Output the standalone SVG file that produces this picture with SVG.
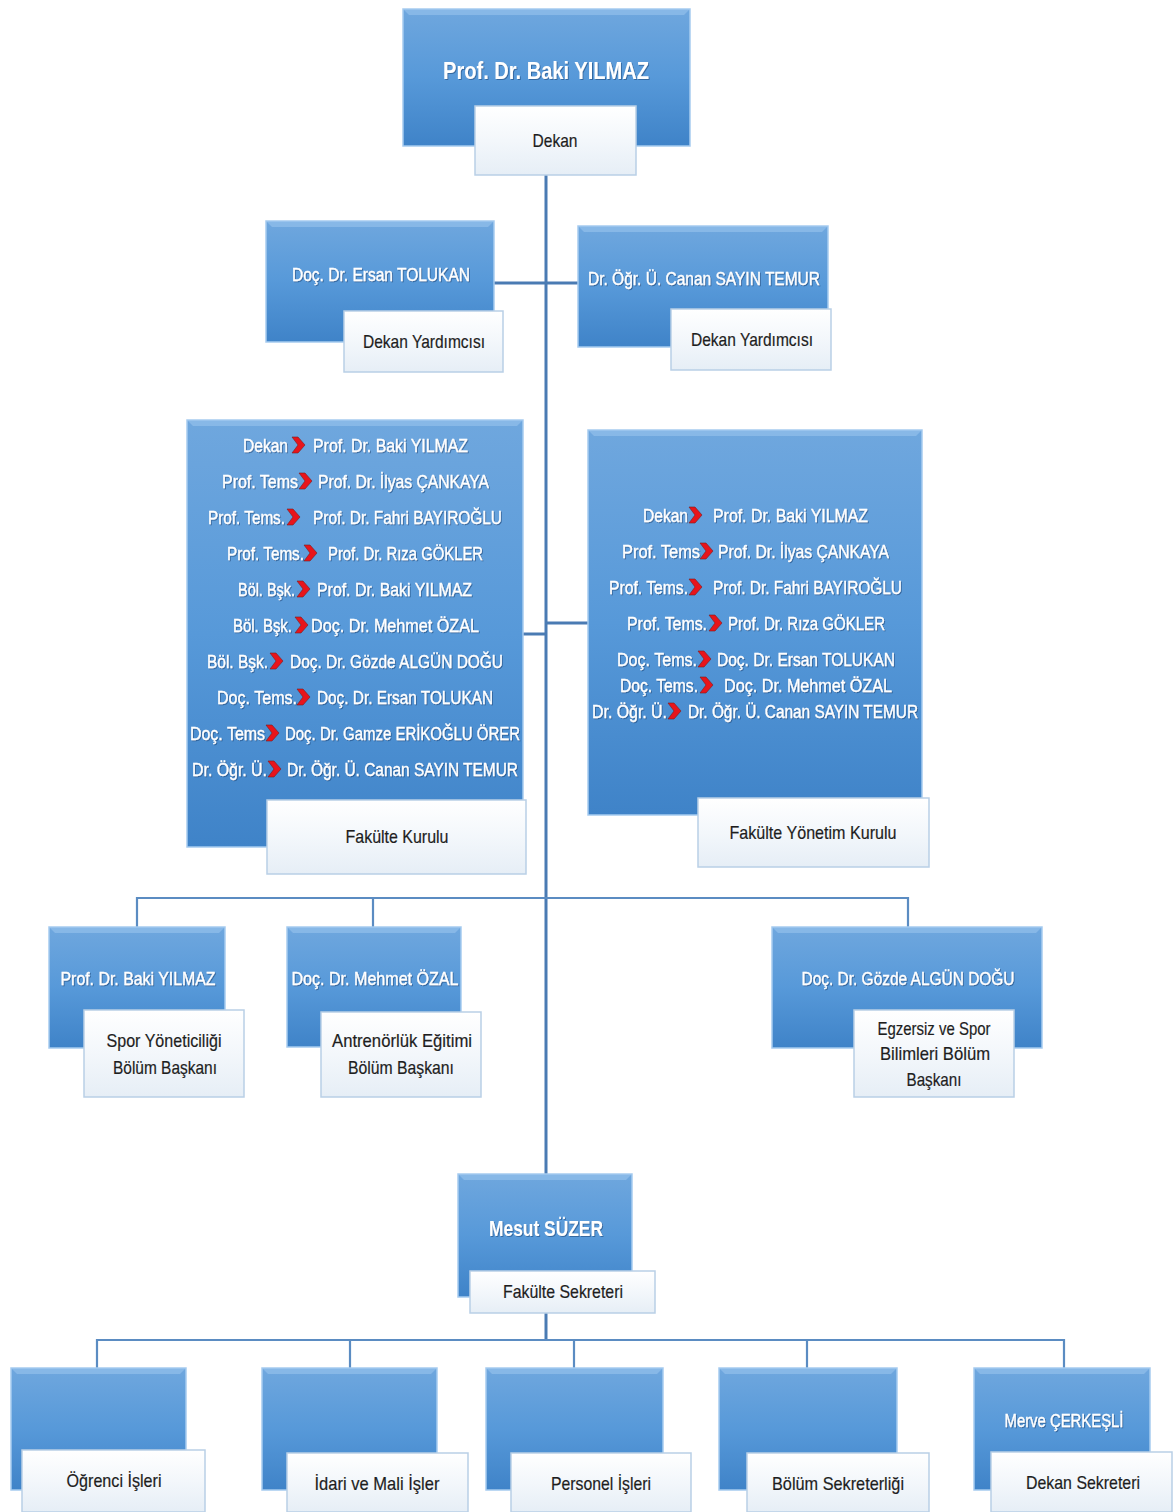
<svg xmlns="http://www.w3.org/2000/svg" xmlns:xlink="http://www.w3.org/1999/xlink" width="1176" height="1512" viewBox="0 0 1176 1512">
<defs>
<linearGradient id="bg" x1="0" y1="0" x2="0" y2="1">
<stop offset="0" stop-color="#6fa7de"/>
<stop offset="0.5" stop-color="#5799d9"/>
<stop offset="1" stop-color="#3f83c8"/>
</linearGradient>
<linearGradient id="lg" x1="0" y1="0" x2="0" y2="1">
<stop offset="0" stop-color="#ffffff"/>
<stop offset="0.5" stop-color="#f3f7fb"/>
<stop offset="1" stop-color="#e6eef6"/>
</linearGradient>
<filter id="sh" x="-5%" y="-20%" width="110%" height="140%">
<feDropShadow dx="1" dy="1" stdDeviation="0.6" flood-color="#1d4a7a" flood-opacity="0.6"/>
</filter>
<path id="chev" d="M0,-8 L6,-8 L13,0 L6,8 L0,8 L6,0 Z" fill="#e8141b" stroke="#7a1d1d" stroke-width="0.6"/>
</defs>
<style>
.box{fill:url(#bg);stroke:#a6cbef;stroke-width:1.5}
.hl{fill:#9cc6ee;opacity:0.55}
.lab{fill:url(#lg);stroke:#b9cfe6;stroke-width:1.5}
.conn{stroke:#4a7bb3;stroke-width:3;fill:none}
.bus{stroke:#5b8cc2;stroke-width:2.2;fill:none}
.wt{font-family:"Liberation Sans Narrow","Liberation Sans",sans-serif;font-size:19px;fill:#ffffff;stroke:#ffffff;stroke-width:0.35;filter:url(#sh)}
.wb{font-family:"Liberation Sans Narrow","Liberation Sans",sans-serif;font-size:24px;font-weight:bold;fill:#ffffff;filter:url(#sh)}
.dk{font-family:"Liberation Sans Narrow","Liberation Sans",sans-serif;font-size:19px;fill:#1e1e1e;stroke:#1e1e1e;stroke-width:0.2}
.row{font-family:"Liberation Sans Narrow","Liberation Sans",sans-serif;font-size:19px;fill:#ffffff;stroke:#ffffff;stroke-width:0.35;filter:url(#sh)}
</style>

<g id="connectors">
<line class="conn" x1="546" y1="175" x2="546" y2="1174"/>
<line class="conn" x1="494" y1="283" x2="578" y2="283"/>
<line class="conn" x1="523" y1="634" x2="546" y2="634"/>
<line class="conn" x1="546" y1="623" x2="588" y2="623"/>
<polyline class="bus" points="137,927 137,898 908,898 908,927"/>
<line class="bus" x1="373" y1="898" x2="373" y2="927"/>
<line class="conn" x1="546" y1="1313" x2="546" y2="1340"/>
<polyline class="bus" points="97,1368 97,1340 1064,1340 1064,1368"/>
<line class="bus" x1="350" y1="1340" x2="350" y2="1368"/>
<line class="bus" x1="574" y1="1340" x2="574" y2="1368"/>
<line class="bus" x1="807" y1="1340" x2="807" y2="1368"/>
</g>

<g id="dekan">
<rect class="box" x="403" y="9" width="287" height="137"/>
<polygon class="hl" points="403,9 690,9 684,15 409,15"/>
<rect class="lab" x="475" y="106" width="161" height="69"/>
<text class="wb" x="546" y="79" text-anchor="middle" textLength="206" lengthAdjust="spacingAndGlyphs">Prof. Dr. Baki YILMAZ</text>
<text class="dk" x="555" y="147" text-anchor="middle" textLength="45" lengthAdjust="spacingAndGlyphs">Dekan</text>
</g>

<g id="yard1">
<rect class="box" x="266" y="221" width="228" height="121"/>
<polygon class="hl" points="266,221 494,221 488,227 272,227"/>
<rect class="lab" x="344" y="311" width="159" height="61"/>
<text class="wt" x="381" y="281" text-anchor="middle" textLength="178" lengthAdjust="spacingAndGlyphs">Doç. Dr. Ersan TOLUKAN</text>
<text class="dk" x="424" y="348" text-anchor="middle" textLength="122" lengthAdjust="spacingAndGlyphs">Dekan Yardımcısı</text>
</g>

<g id="yard2">
<rect class="box" x="578" y="226" width="250" height="121"/>
<polygon class="hl" points="578,226 828,226 822,232 584,232"/>
<rect class="lab" x="671" y="309" width="160" height="61"/>
<text class="wt" x="704" y="285" text-anchor="middle" textLength="232" lengthAdjust="spacingAndGlyphs">Dr. Öğr. Ü. Canan SAYIN TEMUR</text>
<text class="dk" x="752" y="346" text-anchor="middle" textLength="122" lengthAdjust="spacingAndGlyphs">Dekan Yardımcısı</text>
</g>

<g id="fakulte-kurulu">
<rect class="box" x="187" y="420" width="336" height="427"/>
<polygon class="hl" points="187,420 523,420 517,426 193,426"/>
<rect class="lab" x="267" y="800" width="259" height="74"/>
<text class="row" x="243" y="452" textLength="45" lengthAdjust="spacingAndGlyphs">Dekan</text><use xlink:href="#chev" x="292" y="445"/><text class="row" x="313" y="452" textLength="155" lengthAdjust="spacingAndGlyphs">Prof. Dr. Baki YILMAZ</text>
<text class="row" x="222" y="488" textLength="76" lengthAdjust="spacingAndGlyphs">Prof. Tems</text><use xlink:href="#chev" x="299" y="481"/><text class="row" x="318" y="488" textLength="171" lengthAdjust="spacingAndGlyphs">Prof. Dr. İlyas ÇANKAYA</text>
<text class="row" x="208" y="524" textLength="77" lengthAdjust="spacingAndGlyphs">Prof. Tems.</text><use xlink:href="#chev" x="287" y="517"/><text class="row" x="313" y="524" textLength="189" lengthAdjust="spacingAndGlyphs">Prof. Dr. Fahri BAYIROĞLU</text>
<text class="row" x="227" y="560" textLength="77" lengthAdjust="spacingAndGlyphs">Prof. Tems.</text><use xlink:href="#chev" x="304" y="553"/><text class="row" x="328" y="560" textLength="155" lengthAdjust="spacingAndGlyphs">Prof. Dr. Rıza GÖKLER</text>
<text class="row" x="238" y="596" textLength="57" lengthAdjust="spacingAndGlyphs">Böl. Bşk.</text><use xlink:href="#chev" x="297" y="589"/><text class="row" x="317" y="596" textLength="155" lengthAdjust="spacingAndGlyphs">Prof. Dr. Baki YILMAZ</text>
<text class="row" x="233" y="632" textLength="59" lengthAdjust="spacingAndGlyphs">Böl. Bşk.</text><use xlink:href="#chev" x="295" y="625"/><text class="row" x="311" y="632" textLength="168" lengthAdjust="spacingAndGlyphs">Doç. Dr. Mehmet ÖZAL</text>
<text class="row" x="207" y="668" textLength="61" lengthAdjust="spacingAndGlyphs">Böl. Bşk.</text><use xlink:href="#chev" x="270" y="661"/><text class="row" x="290" y="668" textLength="213" lengthAdjust="spacingAndGlyphs">Doç. Dr. Gözde ALGÜN DOĞU</text>
<text class="row" x="217" y="704" textLength="80" lengthAdjust="spacingAndGlyphs">Doç. Tems.</text><use xlink:href="#chev" x="297" y="697"/><text class="row" x="317" y="704" textLength="176" lengthAdjust="spacingAndGlyphs">Doç. Dr. Ersan TOLUKAN</text>
<text class="row" x="190" y="740" textLength="75" lengthAdjust="spacingAndGlyphs">Doç. Tems</text><use xlink:href="#chev" x="266" y="733"/><text class="row" x="285" y="740" textLength="235" lengthAdjust="spacingAndGlyphs">Doç. Dr. Gamze ERİKOĞLU ÖRER</text>
<text class="row" x="192" y="776" textLength="75" lengthAdjust="spacingAndGlyphs">Dr. Öğr. Ü.</text><use xlink:href="#chev" x="268" y="769"/><text class="row" x="287" y="776" textLength="231" lengthAdjust="spacingAndGlyphs">Dr. Öğr. Ü. Canan SAYIN TEMUR</text>
<text class="dk" x="397" y="843" text-anchor="middle" textLength="103" lengthAdjust="spacingAndGlyphs">Fakülte Kurulu</text>
</g>

<g id="fakulte-yonetim-kurulu">
<rect class="box" x="588" y="430" width="334" height="385"/>
<polygon class="hl" points="588,430 922,430 916,436 594,436"/>
<rect class="lab" x="698" y="798" width="231" height="69"/>
<text class="row" x="643" y="522" textLength="45" lengthAdjust="spacingAndGlyphs">Dekan</text><use xlink:href="#chev" x="689" y="515"/><text class="row" x="713" y="522" textLength="155" lengthAdjust="spacingAndGlyphs">Prof. Dr. Baki YILMAZ</text>
<text class="row" x="622" y="558" textLength="78" lengthAdjust="spacingAndGlyphs">Prof. Tems</text><use xlink:href="#chev" x="700" y="551"/><text class="row" x="718" y="558" textLength="171" lengthAdjust="spacingAndGlyphs">Prof. Dr. İlyas ÇANKAYA</text>
<text class="row" x="609" y="594" textLength="79" lengthAdjust="spacingAndGlyphs">Prof. Tems.</text><use xlink:href="#chev" x="689" y="587"/><text class="row" x="713" y="594" textLength="189" lengthAdjust="spacingAndGlyphs">Prof. Dr. Fahri BAYIROĞLU</text>
<text class="row" x="627" y="630" textLength="80" lengthAdjust="spacingAndGlyphs">Prof. Tems.</text><use xlink:href="#chev" x="709" y="623"/><text class="row" x="728" y="630" textLength="157" lengthAdjust="spacingAndGlyphs">Prof. Dr. Rıza GÖKLER</text>
<text class="row" x="617" y="666" textLength="80" lengthAdjust="spacingAndGlyphs">Doç. Tems.</text><use xlink:href="#chev" x="698" y="659"/><text class="row" x="717" y="666" textLength="178" lengthAdjust="spacingAndGlyphs">Doç. Dr. Ersan TOLUKAN</text>
<text class="row" x="620" y="692" textLength="78" lengthAdjust="spacingAndGlyphs">Doç. Tems.</text><use xlink:href="#chev" x="700" y="685"/><text class="row" x="724" y="692" textLength="168" lengthAdjust="spacingAndGlyphs">Doç. Dr. Mehmet ÖZAL</text>
<text class="row" x="592" y="718" textLength="75" lengthAdjust="spacingAndGlyphs">Dr. Öğr. Ü.</text><use xlink:href="#chev" x="668" y="711"/><text class="row" x="688" y="718" textLength="230" lengthAdjust="spacingAndGlyphs">Dr. Öğr. Ü. Canan SAYIN TEMUR</text>
<text class="dk" x="813" y="839" text-anchor="middle" textLength="167" lengthAdjust="spacingAndGlyphs">Fakülte Yönetim Kurulu</text>
</g>

<g id="bolum1">
<rect class="box" x="49" y="927" width="176" height="121"/>
<polygon class="hl" points="49,927 225,927 219,933 55,933"/>
<rect class="lab" x="84" y="1010" width="160" height="87"/>
<text class="wt" x="138" y="985" text-anchor="middle" textLength="155" lengthAdjust="spacingAndGlyphs">Prof. Dr. Baki YILMAZ</text>
<text class="dk" x="164" y="1047" text-anchor="middle" textLength="115" lengthAdjust="spacingAndGlyphs">Spor Yöneticiliği</text>
<text class="dk" x="165" y="1074" text-anchor="middle" textLength="104" lengthAdjust="spacingAndGlyphs">Bölüm Başkanı</text>
</g>

<g id="bolum2">
<rect class="box" x="287" y="927" width="174" height="120"/>
<polygon class="hl" points="287,927 461,927 455,933 293,933"/>
<rect class="lab" x="321" y="1012" width="160" height="85"/>
<text class="wt" x="375" y="985" text-anchor="middle" textLength="167" lengthAdjust="spacingAndGlyphs">Doç. Dr. Mehmet ÖZAL</text>
<text class="dk" x="402" y="1047" text-anchor="middle" textLength="140" lengthAdjust="spacingAndGlyphs">Antrenörlük Eğitimi</text>
<text class="dk" x="401" y="1074" text-anchor="middle" textLength="106" lengthAdjust="spacingAndGlyphs">Bölüm Başkanı</text>
</g>

<g id="bolum3">
<rect class="box" x="772" y="927" width="270" height="121"/>
<polygon class="hl" points="772,927 1042,927 1036,933 778,933"/>
<rect class="lab" x="854" y="1010" width="160" height="87"/>
<text class="wt" x="908" y="985" text-anchor="middle" textLength="213" lengthAdjust="spacingAndGlyphs">Doç. Dr. Gözde ALGÜN DOĞU</text>
<text class="dk" x="934" y="1035" text-anchor="middle" textLength="113" lengthAdjust="spacingAndGlyphs">Egzersiz ve Spor</text>
<text class="dk" x="935" y="1060" text-anchor="middle" textLength="110" lengthAdjust="spacingAndGlyphs">Bilimleri Bölüm</text>
<text class="dk" x="934" y="1086" text-anchor="middle" textLength="55" lengthAdjust="spacingAndGlyphs">Başkanı</text>
</g>

<g id="sekreter">
<rect class="box" x="458" y="1174" width="174" height="123"/>
<polygon class="hl" points="458,1174 632,1174 626,1180 464,1180"/>
<rect class="lab" x="470" y="1271" width="185" height="42"/>
<text class="wb" x="546" y="1236" text-anchor="middle" textLength="114" lengthAdjust="spacingAndGlyphs" style="font-size:22px">Mesut SÜZER</text>
<text class="dk" x="563" y="1298" text-anchor="middle" textLength="120" lengthAdjust="spacingAndGlyphs">Fakülte Sekreteri</text>
</g>

<g id="ogrenci">
<rect class="box" x="11" y="1368" width="175" height="122"/>
<polygon class="hl" points="11,1368 186,1368 180,1374 17,1374"/>
<rect class="lab" x="22" y="1450" width="183" height="62"/>
<text class="dk" x="114" y="1487" text-anchor="middle" textLength="95" lengthAdjust="spacingAndGlyphs">Öğrenci İşleri</text>
</g>

<g id="idari">
<rect class="box" x="262" y="1368" width="175" height="122"/>
<polygon class="hl" points="262,1368 437,1368 431,1374 268,1374"/>
<rect class="lab" x="287" y="1453" width="181" height="59"/>
<text class="dk" x="377" y="1490" text-anchor="middle" textLength="125" lengthAdjust="spacingAndGlyphs">İdari ve Mali İşler</text>
</g>

<g id="personel">
<rect class="box" x="486" y="1368" width="177" height="122"/>
<polygon class="hl" points="486,1368 663,1368 657,1374 492,1374"/>
<rect class="lab" x="511" y="1453" width="180" height="59"/>
<text class="dk" x="601" y="1490" text-anchor="middle" textLength="100" lengthAdjust="spacingAndGlyphs">Personel İşleri</text>
</g>

<g id="bolum-sekreterligi">
<rect class="box" x="719" y="1368" width="178" height="122"/>
<polygon class="hl" points="719,1368 897,1368 891,1374 725,1374"/>
<rect class="lab" x="747" y="1453" width="182" height="59"/>
<text class="dk" x="838" y="1490" text-anchor="middle" textLength="132" lengthAdjust="spacingAndGlyphs">Bölüm Sekreterliği</text>
</g>

<g id="dekan-sekreteri">
<rect class="box" x="974" y="1368" width="176" height="122"/>
<polygon class="hl" points="974,1368 1150,1368 1144,1374 980,1374"/>
<rect class="lab" x="991" y="1452" width="181" height="60"/>
<text class="wt" x="1064" y="1427" text-anchor="middle" textLength="119" lengthAdjust="spacingAndGlyphs">Merve ÇERKEŞLİ</text>
<text class="dk" x="1083" y="1489" text-anchor="middle" textLength="114" lengthAdjust="spacingAndGlyphs">Dekan Sekreteri</text>
</g>
</svg>
